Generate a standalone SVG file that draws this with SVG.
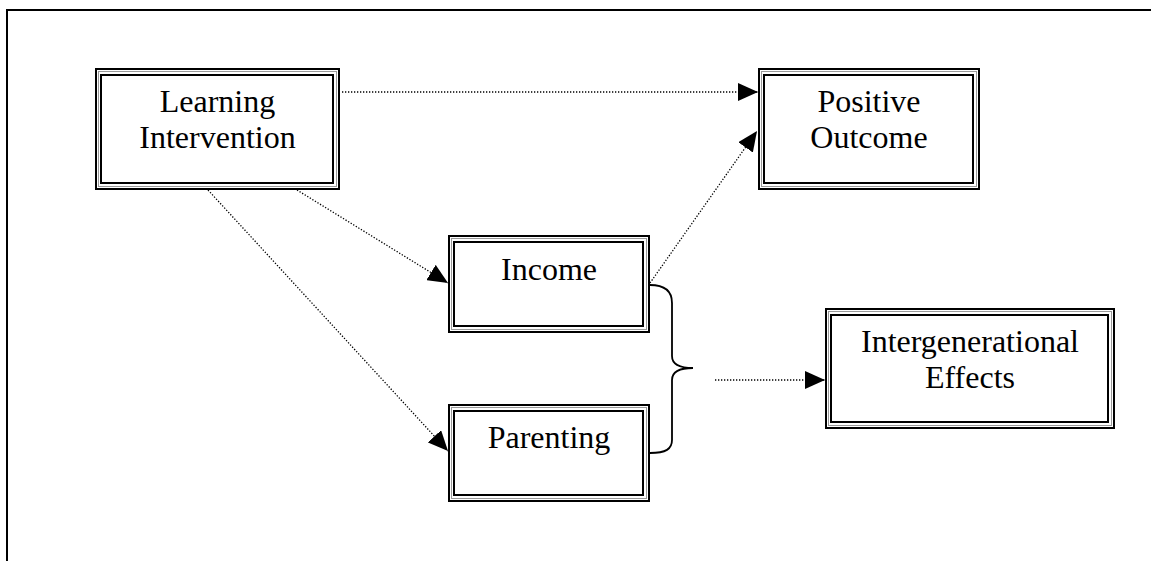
<svg xmlns="http://www.w3.org/2000/svg" width="1151" height="561" viewBox="0 0 1151 561">
  <style>
    .outer { fill: none; stroke: #000; stroke-width: 2; }
    .mid { fill: none; stroke: #999; stroke-width: 1; }
    .inner { fill: none; stroke: #000; stroke-width: 2; }
    .bg { fill: #fff; }
    .dot { fill: none; stroke: #000; stroke-width: 1.3; stroke-dasharray: 1.3 1.7; }
    .brace { fill: none; stroke: #000; stroke-width: 1.8; }
    .frame { fill: none; stroke: #000; stroke-width: 2; }
  </style>
  <defs>
    <marker id="arrow" markerUnits="userSpaceOnUse" markerWidth="20" markerHeight="18" refX="20" refY="9" orient="auto">
      <path d="M0,0 L20,9 L0,18 Z" fill="#000"/>
    </marker>
  </defs>
  <rect x="0" y="0" width="1151" height="561" fill="#fff"/>
  <path class="frame" d="M7,561 L7,10 L1151,10"/>

  <g id="connectors">
    <line class="dot" x1="342" y1="92" x2="758" y2="92" marker-end="url(#arrow)"/>
    <line class="dot" x1="650" y1="283" x2="757" y2="131" marker-end="url(#arrow)"/>
    <line class="dot" x1="297" y1="190" x2="448" y2="283" marker-end="url(#arrow)"/>
    <line class="dot" x1="208" y1="190" x2="448" y2="451" marker-end="url(#arrow)"/>
    <line class="dot" x1="715" y1="380" x2="825" y2="380" marker-end="url(#arrow)"/>
    <path class="brace" d="M650,285 C666,285 672,292 672,303 L672,356 C672,364 679,368 693,368 C679,368 672,372 672,380 L672,440 C672,449 666,453 650,453"/>
  </g>

  <g font-family="Liberation Serif, Times New Roman, serif" font-size="32" fill="#000" text-anchor="middle">
  <g id="learning-intervention">
    <rect class="bg" x="96" y="69" width="243" height="120"/>
    <rect class="outer" x="96" y="69" width="243" height="120"/>
    <rect class="mid" x="98.5" y="71.5" width="238" height="115"/>
    <rect class="inner" x="101" y="75" width="232" height="108"/>
    <text x="217.5" y="112">Learning</text>
    <text x="217.5" y="148">Intervention</text>
  </g>

  <g id="positive-outcome">
    <rect class="bg" x="759" y="69" width="220" height="120"/>
    <rect class="outer" x="759" y="69" width="220" height="120"/>
    <rect class="mid" x="761.5" y="71.5" width="215" height="115"/>
    <rect class="inner" x="764" y="75" width="209" height="108"/>
    <text x="869" y="112">Positive</text>
    <text x="869" y="148">Outcome</text>
  </g>

  <g id="income">
    <rect class="bg" x="449" y="236" width="200" height="96"/>
    <rect class="outer" x="449" y="236" width="200" height="96"/>
    <rect class="mid" x="451.5" y="238.5" width="195" height="91"/>
    <rect class="inner" x="454" y="242" width="189" height="84"/>
    <text x="549" y="280">Income</text>
  </g>

  <g id="parenting">
    <rect class="bg" x="449" y="405" width="200" height="96"/>
    <rect class="outer" x="449" y="405" width="200" height="96"/>
    <rect class="mid" x="451.5" y="407.5" width="195" height="91"/>
    <rect class="inner" x="454" y="411" width="189" height="84"/>
    <text x="549" y="448">Parenting</text>
  </g>

  <g id="intergenerational-effects">
    <rect class="bg" x="826" y="309" width="288" height="119"/>
    <rect class="outer" x="826" y="309" width="288" height="119"/>
    <rect class="mid" x="828.5" y="311.5" width="283" height="114"/>
    <rect class="inner" x="831" y="315" width="277" height="107"/>
    <text x="970" y="352">Intergenerational</text>
    <text x="970" y="388">Effects</text>
  </g>
  </g>
</svg>
